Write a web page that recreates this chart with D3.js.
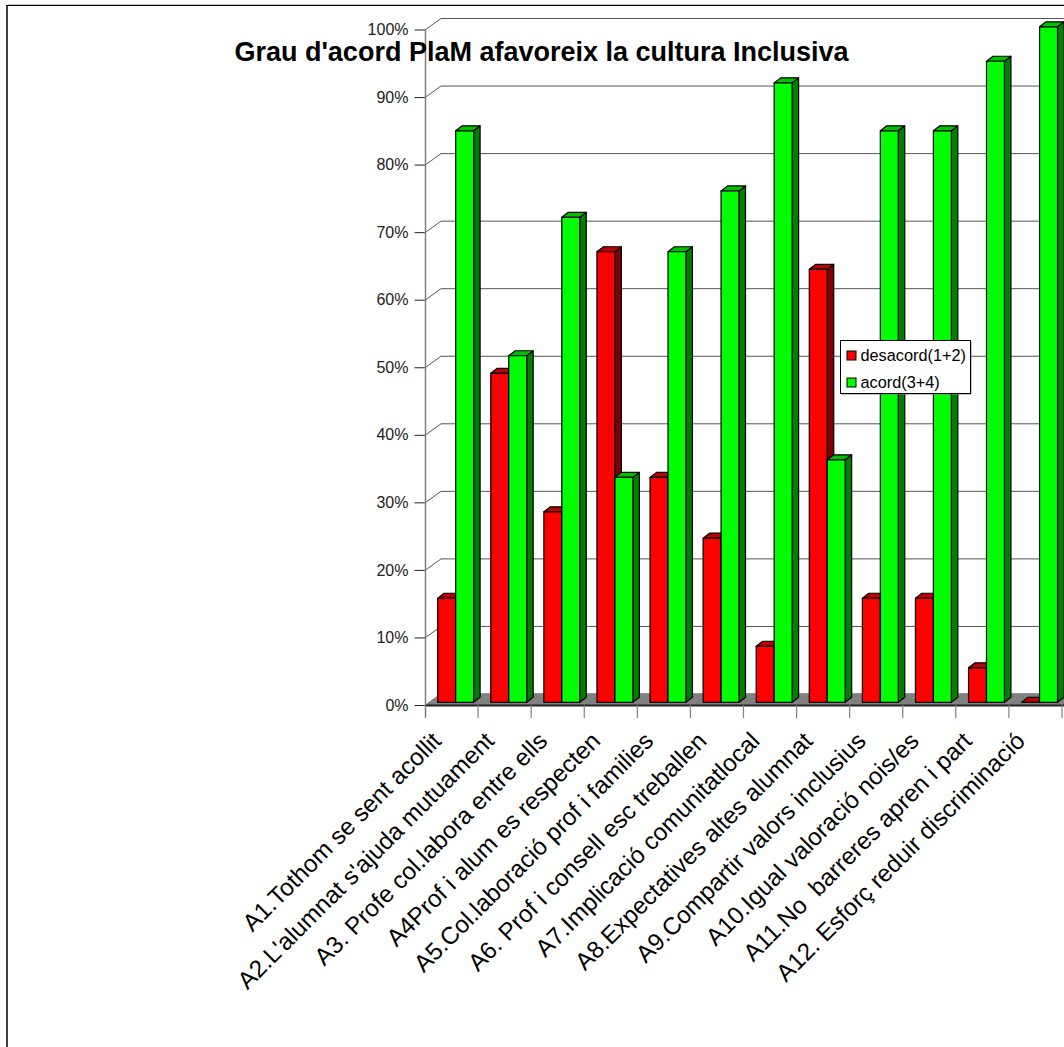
<!DOCTYPE html>
<html><head><meta charset="utf-8">
<script src="https://cdnjs.cloudflare.com/ajax/libs/d3/7.8.5/d3.min.js"></script>
<style>html,body{margin:0;padding:0;background:#fff}svg{display:block}text{font-family:"Liberation Sans",Arial,sans-serif;fill:#000;white-space:pre}</style>
</head><body><svg id="c" width="1064" height="1047"></svg>
<script>
const categories=["A1.Tothom se sent acollit","A2.L'alumnat s'ajuda mutuament","A3. Profe col.labora entre ells","A4Prof i alum es respecten","A5.Col.laboració prof i families","A6. Prof i consell esc treballen","A7.Implicació comunitatlocal","A8.Expectatives altes alumnat","A9.Compartir valors inclusius","A10.Igual valoració nois/es","A11.No  barreres apren i part","A12. Esforç reduir discriminació"];
const desacord=[15.4,48.7,28.2,66.7,33.3,24.3,8.3,64.1,15.4,15.4,5.1,0];
const acord=[84.6,51.3,71.8,33.3,66.7,75.7,91.7,35.9,84.6,84.6,94.9,100];
const seriesNames=["desacord(1+2)","acord(3+4)"];
const yTicks=[0,10,20,30,40,50,60,70,80,90,100];
const title="Grau d'acord PlaM afavoreix la cultura Inclusiva";
const svg=d3.select("#c");
const depthX=16,depthY=-11.5,barDX=6.5,barDY=-5;
const left=425,right=1062,y0=705,y100=29.5;
const y=d3.scaleLinear().domain([0,100]).range([y0,y100]);
const x=d3.scaleBand().domain(categories).range([left,right]);
const inner=d3.scaleBand().domain(seriesNames).range([12.7,48.6]);
const colors={front:["#ff0000","#00ff00"],top:["#c00000","#00c000"],side:["#800000","#008000"]};
// frame
svg.append("line").attr("x1",7).attr("x2",7).attr("y1",5).attr("y2",1047).attr("stroke","#404040").attr("stroke-width",2);
svg.append("line").attr("x1",6).attr("x2",1064).attr("y1",5.5).attr("y2",5.5).attr("stroke","#000");
svg.append("line").attr("x1",8).attr("x2",1064).attr("y1",4.5).attr("y2",4.5).attr("stroke","#c0c0c0");
// walls
const g=svg.append("g");
g.selectAll(".grid").data(yTicks).join("path").attr("fill","none").attr("stroke","#555").attr("stroke-width",1)
 .attr("d",d=>`M${left},${y(d)+.5}L${left+depthX},${y(d)+depthY+.5}H1064`);
// floor
g.append("path").attr("fill","#808080").attr("d",`M${left},${y0}L${left+depthX},${y0+depthY}H1064V${y0}Z`);
g.append("line").attr("x1",left).attr("x2",1064).attr("y1",y0+.5).attr("y2",y0+.5).attr("stroke","#222").attr("stroke-width",2);
// bars
const oy=-2.7;
categories.forEach((c,i)=>{
 [desacord[i],acord[i]].forEach((v,s)=>{
  const bx=x(c)+inner(seriesNames[s]),bw=inner.bandwidth(),t=y(v)+oy,b=y0+oy;
  const bar=g.append("g").attr("stroke","#000").attr("stroke-width",1.2).attr("stroke-linejoin","round");
  bar.append("path").attr("fill",colors.side[s]).attr("d",`M${bx+bw},${t}l${barDX},${barDY}V${b+barDY}l${-barDX},${-barDY}Z`);
  bar.append("path").attr("fill",colors.top[s]).attr("d",`M${bx},${t}l${barDX},${barDY}h${bw}l${-barDX},${-barDY}Z`);
  if(v>0)bar.append("rect").attr("fill",colors.front[s]).attr("x",bx).attr("y",t).attr("width",bw).attr("height",b-t);
 });
});
// y axis
const ya=svg.append("g").attr("transform",`translate(${left+.5},0)`).call(d3.axisLeft(y).tickValues(yTicks).tickSize(11).tickPadding(6).tickFormat(d=>d+"%"));
ya.select(".domain").remove();
ya.selectAll("line").attr("stroke","#222");
ya.selectAll("text").attr("font-size",16).attr("fill","#222").style("fill","#222").style("font-family",'"Liberation Sans",Arial,sans-serif');
svg.append("line").attr("x1",left+.5).attr("x2",left+.5).attr("y1",y100).attr("y2",718).attr("stroke","#808080").attr("stroke-width",1.5);
// x axis
const tickPos=categories.map(c=>x(c)+x.bandwidth());
svg.selectAll(".xt").data(tickPos).join("line").attr("x1",d=>d).attr("x2",d=>d).attr("y1",y0).attr("y2",718).attr("stroke","#808080").attr("stroke-width",1.2);
svg.selectAll(".xl").data(categories).join("text").attr("font-size",24.2).attr("text-anchor","end")
 .attr("transform",c=>`translate(${x(c)+x.bandwidth()/2-9},${742.5}) rotate(-45)`).text(c=>c);
// title
svg.append("text").attr("x",541.5).attr("y",61).attr("text-anchor","middle").attr("font-size",27).attr("font-weight","bold").text(title);
// legend
const lg=svg.append("g");
lg.append("rect").attr("x",841.5).attr("y",341.5).attr("width",130).attr("height",53).attr("fill","#808080");
lg.append("rect").attr("x",840.5).attr("y",340.5).attr("width",130).attr("height",53).attr("fill","#fff").attr("stroke","#000");
seriesNames.forEach((n,i)=>{
 lg.append("rect").attr("x",847).attr("y",351+i*27).attr("width",9).attr("height",9).attr("fill",colors.front[i]).attr("stroke","#000");
 lg.append("text").attr("x",860.5).attr("y",360.5+i*27).attr("font-size",16.3).text(n);
});
</script></body></html>
